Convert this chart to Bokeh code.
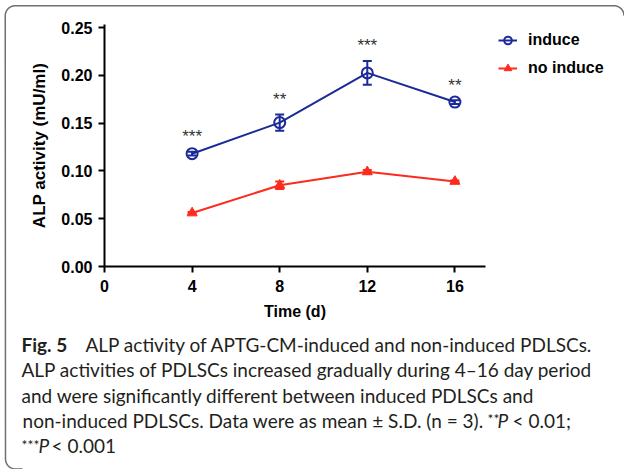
import numpy as np
from bokeh.plotting import figure
from bokeh.models import (Range1d, ColumnDataSource, Whisker, TeeHead, Legend, LegendItem,
                          FixedTicker, NumeralTickFormatter, Label)
from bokeh.core.properties import value
from bokeh.embed import file_html
from bokeh.resources import INLINE

# ---------------- data ----------------
days = [4, 8, 12, 16]
induce_mean = [0.118, 0.1505, 0.2025, 0.172]
induce_sd = [0.002, 0.0085, 0.0125, 0.002]
noinduce_mean = [0.056, 0.085, 0.099, 0.089]
noinduce_sd = [0.001, 0.004, 0.002, 0.001]
signif = ["***", "**", "***", "**"]
x_ticks = [0, 4, 8, 12, 16]
y_ticks = [0.00, 0.05, 0.10, 0.15, 0.20, 0.25]
series_labels = ["induce", "no induce"]

# caption pieces: (text, style, x, align, size)
caption_lines = [
    [("Fig. 5", "bold", 21, "left", 19),
     ("ALP activity of APTG-CM-induced and non-induced PDLSCs.", "normal", 85, "left", 19)],
    [("ALP activities of PDLSCs increased gradually during 4–16 day period", "normal", 21, "left", 19)],
    [("and were significantly different between induced PDLSCs and", "normal", 21, "left", 19)],
    [("non-induced PDLSCs. Data were as mean ± S.D. (n = 3).", "normal", 483, "right", 19),
     ("**", "normal", 487, "left", 14), ("P", "italic", 497, "left", 19),
     ("< 0.01;", "normal", 512, "left", 19)],
    [("***", "normal", 21, "left", 14), ("P", "italic", 38, "left", 19),
     ("< 0.001", "normal", 51, "left", 19)],
]
caption_y = [344, 369, 394.5, 419.5, 445]   # from the top of the page

BLUE = "#1c2a98"
RED = "#fd2b1c"
FONT = "Liberation Sans"
CAP_FONT = "Lato"
CAP_COLOR = "#231f20"

W, H = 624, 469
# pixel geometry of the plotting area (frame covers the whole canvas, axes are pinned)
X0_PX, PX_PER_DAY = 104.0, 21.9
Y0_PX, PX_PER_UNIT = 266.0, 956.0
X_END, Y_END = 17.4, 0.2531

p = figure(width=W, height=H, output_backend="svg", toolbar_location=None,
           x_range=Range1d(-X0_PX / PX_PER_DAY, (W - X0_PX) / PX_PER_DAY),
           y_range=Range1d(-(H - Y0_PX) / PX_PER_UNIT, Y0_PX / PX_PER_UNIT),
           min_border_left=0, min_border_right=0, min_border_top=0, min_border_bottom=0)
p.grid.visible = False
p.outline_line_color = None
p.background_fill_color = "white"
p.border_fill_color = "white"

p.xaxis.ticker = FixedTicker(ticks=x_ticks)
p.yaxis.ticker = FixedTicker(ticks=y_ticks)
p.yaxis.formatter = NumeralTickFormatter(format="0.00")
p.xaxis.axis_label = "Time (d)"
p.yaxis.axis_label = "ALP activity (mU/ml)"
p.xaxis.fixed_location = 0
p.yaxis.fixed_location = 0
p.xaxis.bounds = (0, X_END)
p.yaxis.bounds = (0, Y_END)
for ax in (p.xaxis[0], p.yaxis[0]):
    ax.axis_line_width = 2
    ax.axis_line_color = "black"
    ax.major_tick_line_width = 2
    ax.major_tick_line_color = "black"
    ax.major_tick_out = 6
    ax.major_tick_in = 0
    ax.minor_tick_out = 0
    ax.minor_tick_in = 0
    ax.major_label_text_font = FONT
    ax.major_label_text_font_style = "bold"
    ax.major_label_text_font_size = "16px"
    ax.major_label_text_color = "black"
    ax.axis_label_text_font = FONT
    ax.axis_label_text_font_style = "bold"
    ax.axis_label_text_color = "black"
p.xaxis.axis_label_text_font_size = "16px"
p.yaxis.axis_label_text_font_size = "17px"
p.xaxis.major_label_standoff = 7
p.xaxis.axis_label_standoff = 8
p.yaxis.major_label_standoff = 6
p.yaxis.axis_label_standoff = 9

# ---------------- rounded frame border (decoration, page pixels -> plot space) ----------------
def px_to_data(px, py):
    return (np.asarray(px) - X0_PX) / PX_PER_DAY, (Y0_PX - np.asarray(py)) / PX_PER_UNIT

def arc(cx, cy, r, t0, t1, n=16):
    t = np.radians(np.linspace(t0, t1, n))
    return list(cx + r * np.cos(t)), list(cy + r * np.sin(t))

R = 10
bx, by = [22.0], [468.5]
for (cx, cy, t0, t1) in ((15, 458.5, 90, 180), (14.75, 15.25, 180, 270), (613.5, 15.25, 270, 360)):
    ax_, ay_ = arc(cx, cy, R, t0, t1)
    bx += ax_
    by += ay_
bdx, bdy = px_to_data(bx, by)
p.line(list(bdx), list(bdy), line_color="#6f6f6f", line_width=1.5)

# ---------------- series ----------------
src_i = ColumnDataSource(dict(x=days, y=induce_mean,
                              lo=[m - s for m, s in zip(induce_mean, induce_sd)],
                              hi=[m + s for m, s in zip(induce_mean, induce_sd)]))
src_n = ColumnDataSource(dict(x=days, y=noinduce_mean,
                              lo=[m - s for m, s in zip(noinduce_mean, noinduce_sd)],
                              hi=[m + s for m, s in zip(noinduce_mean, noinduce_sd)]))

for src, col in ((src_i, BLUE), (src_n, RED)):
    p.add_layout(Whisker(base="x", upper="hi", lower="lo", source=src, line_color=col, line_width=2,
                         upper_head=TeeHead(size=9, line_color=col, line_width=2),
                         lower_head=TeeHead(size=9, line_color=col, line_width=2)))

r1l = p.line("x", "y", source=src_i, line_color=BLUE, line_width=2)
r1s = p.scatter("x", "y", source=src_i, marker="circle", size=11, fill_color=None,
                line_color=BLUE, line_width=2)
r2l = p.line("x", "y", source=src_n, line_color=RED, line_width=2)
r2s = p.scatter("x", "y", source=src_n, marker="triangle", size=10, fill_color=RED,
                line_color=RED, line_width=1)

src_s = ColumnDataSource(dict(x=days, y=[m + s for m, s in zip(induce_mean, induce_sd)], t=signif))
p.text("x", "y", text="t", source=src_s, text_align="center", text_baseline="middle",
       y_offset=-15, text_font=value(FONT), text_font_size="17px", text_color="#333333")

legend = Legend(items=[LegendItem(label=series_labels[0], renderers=[r1l, r1s]),
                       LegendItem(label=series_labels[1], renderers=[r2l, r2s])],
                location=(498, H - 78), orientation="vertical",
                glyph_width=19, glyph_height=20, label_height=20, label_standoff=11,
                spacing=8, padding=0, margin=0, border_line_color=None,
                background_fill_alpha=0,
                label_text_font=FONT, label_text_font_style="bold",
                label_text_font_size="16px", label_text_color="black")
p.add_layout(legend)

# ---------------- caption ----------------
for line, yy in zip(caption_lines, caption_y):
    for txt, style, xx, align, size in line:
        p.add_layout(Label(x=xx, y=H - yy + (1.5 if size < 19 else 0),
                           x_units="screen", y_units="screen", text=txt,
                           text_font=CAP_FONT, text_font_size=f"{size}px", text_font_style=style,
                           text_color=CAP_COLOR, text_baseline="middle", text_align=align))

open("out.html", "w").write(file_html(p, INLINE))
